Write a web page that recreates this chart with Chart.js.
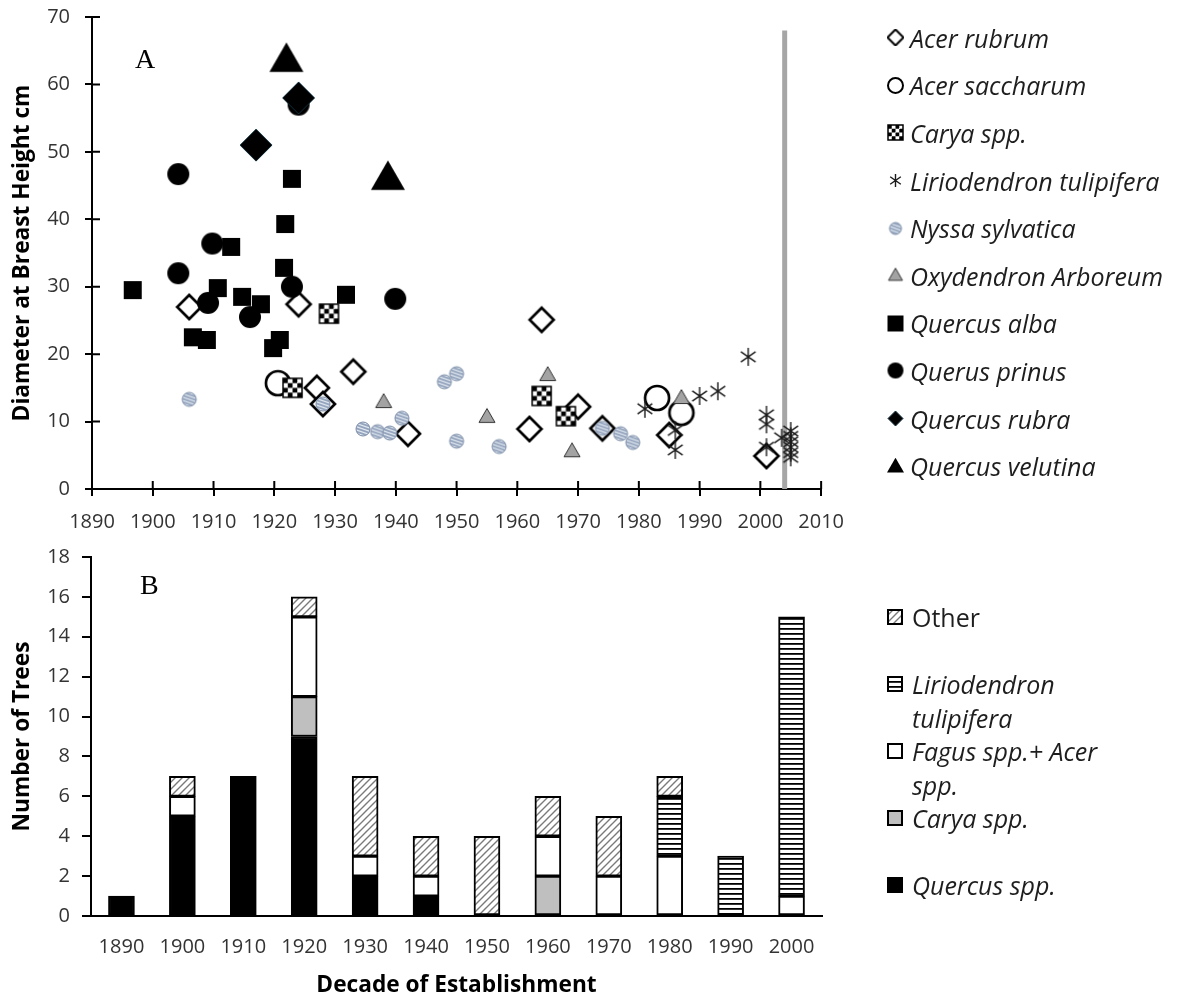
<!DOCTYPE html>
<html>
<head>
<meta charset="utf-8">
<script src="https://cdn.jsdelivr.net/npm/chart.js@4.4.1/dist/chart.umd.min.js"></script>
<style>
body{margin:0;background:#fff;}
#wrap{position:relative;width:1180px;height:1000px;overflow:hidden;font-family:'Open Sans',Lato,sans-serif;}
#wrap>canvas{position:absolute;left:0;}
#c1{top:-10px}
#c2{top:533px}
.panel{position:absolute;font:28px 'Liberation Serif','DejaVu Serif',serif;color:#000}
.lg{position:absolute;left:887px;color:#1e1e1e;font-size:25px;font-style:italic}
.lg .it{display:flex;align-items:center;height:47.6px;white-space:nowrap}
.lg canvas{margin-right:6px;flex:none}
.lg2{position:absolute;left:887px;top:600px;width:230px;color:#1e1e1e;font-size:25px;font-style:italic;line-height:34px}
.lg2 .it{display:flex;align-items:flex-start;height:67px}
.lg2 canvas{margin:9px 9px 0 0;flex:none}
.lg2 .plain{font-style:normal}
</style>
</head>
<body>
<div id="wrap">
  <canvas id="c1" width="858" height="540"></canvas>
  <canvas id="c2" width="850" height="467"></canvas>
  <div class="panel" style="left:135px;top:43px">A</div>
  <div class="panel" style="left:140px;top:569px">B</div>
  <div class="lg" id="lg1" style="top:14px"></div>
  <div class="lg2" id="lg2"></div>
</div>
<script>
// ── A: 樹種ごとの (定着年, DBH cm) ──────────────────────
const speciesNames=['Acer rubrum','Acer saccharum','Carya spp.','Liriodendron tulipifera','Nyssa sylvatica',
  'Oxydendron Arboreum','Quercus alba','Querus prinus','Quercus rubra','Quercus velutina'];
const acerRubrum=[[1906,27.0],[1924,27.4],[1927,15.0],[1928,12.6],[1933,17.4],[1942,8.2],[1962,8.9],
  [1964,25.1],[1970,12.2],[1974,9.0],[1985,8.0],[2001,4.9]];
const acerSaccharum=[[1920.6,15.7],[1983,13.5],[1987,11.3]];
const carya=[[1923,15.0],[1929,26.0],[1964,13.8],[1968,10.8]];
const liriodendron=[[1981,11.9],[1986,8.7],[1986,5.8],[1990,13.8],[1993,14.5],[1998,19.6],[2001,11.0],
  [2001,9.6],[2001,6.2],[2003.5,7.6],[2005,8.6],[2005,7.8],[2005,7.0],[2005,6.2],[2005,5.4],[2005,4.7]];
const nyssa=[[1906,13.3],[1928,12.6],[1934.6,8.9],[1937,8.5],[1939,8.3],[1941,10.5],[1948,15.9],[1950,17.1],
  [1950,7.1],[1957,6.3],[1974,9.0],[1977,8.2],[1979,6.9]];
const oxydendron=[[1938,12.9],[1955,10.7],[1965,16.9],[1969,5.6],[1987,13.5]];
const quercusAlba=[[1896.7,29.5],[1906.6,22.5],[1908.9,22.1],[1910.7,29.8],[1912.9,35.9],[1914.7,28.5],
  [1917.8,27.4],[1919.8,20.9],[1920.9,22.1],[1921.6,32.8],[1921.8,39.3],[1922.9,46.0],[1931.8,28.8]];
const querusPrinus=[[1904.2,46.7],[1904.2,32.0],[1909.1,27.6],[1909.8,36.4],[1916,25.5],[1922.9,30.0],
  [1924,57.0],[1939.9,28.2]];
const quercusRubra=[[1917,51.0],[1924,58.0]];
const quercusVelutina=[[1922,63.6],[1938.7,46.1]];
const cutoffLine=[[2004,0],[2004,68]];

// ── B: 年代別本数 ───────────────────────────────────────
const decades=['1890','1900','1910','1920','1930','1940','1950','1960','1970','1980','1990','2000'];
const stackNames=['Quercus spp.','Carya spp.','Fagus spp.+ Acer spp.','Liriodendron tulipifera','Other'];
const quercusSpp=[1,5,7,9,2,1,0,0,0,0,0,0];
const caryaSpp=  [0,0,0,2,0,0,0,2,0,0,0,0];
const fagusAcer= [0,1,0,4,1,1,0,2,2,3,0,1];
const lirioSpp=  [0,0,0,0,0,0,0,0,0,3,3,14];
const otherSpp=  [0,1,0,1,4,2,4,2,3,1,0,0];

const FONT='"Open Sans", Lato, sans-serif';
const tickCol='#333';

// ── マーカー描画 ────────────────────────────────────────
function marker(kind,s){
  const c=document.createElement('canvas');
  c.width=c.height=Math.ceil(s+6);
  const g=c.getContext('2d'),m=c.width/2,r=s/2;
  const diamond=()=>{g.beginPath();g.moveTo(m,m-r);g.lineTo(m+r,m);g.lineTo(m,m+r);g.lineTo(m-r,m);g.closePath();};
  const tri=()=>{const h=r*2*0.87;g.beginPath();g.moveTo(m,m-h*0.6);g.lineTo(m+r,m+h*0.4);g.lineTo(m-r,m+h*0.4);g.closePath();};
  const circ=()=>{g.beginPath();g.arc(m,m,r,0,Math.PI*2);};
  switch(kind){
    case 'diamondOpen':diamond();g.fillStyle='#fff';g.fill();g.lineWidth=Math.max(2,s/9);g.strokeStyle='#000';g.stroke();break;
    case 'circleOpen':circ();g.fillStyle='#fff';g.fill();g.lineWidth=Math.max(2,s/9);g.strokeStyle='#000';g.stroke();break;
    case 'checker':{
      const x0=m-r,n=4,cs=s/n;g.fillStyle='#fff';g.fillRect(x0,x0,s,s);g.fillStyle='#000';
      for(let i=0;i<n;i++)for(let j=0;j<n;j++)if((i+j)%2===0)g.fillRect(x0+i*cs,x0+j*cs,cs,cs);
      g.strokeStyle='#fff';g.lineWidth=1;g.setLineDash([2,2]);g.beginPath();g.moveTo(x0+2,x0+s-2);g.lineTo(x0+s-2,x0+2);g.stroke();
      g.setLineDash([]);g.strokeStyle='#000';g.lineWidth=1.5;g.strokeRect(x0,x0,s,s);break;}
    case 'asterisk':{
      g.strokeStyle='#1a1a1a';g.lineWidth=1.4;g.beginPath();
      [90,35,145].forEach(a=>{const t=a*Math.PI/180,dx=Math.cos(t)*r,dy=Math.sin(t)*r;g.moveTo(m-dx,m-dy);g.lineTo(m+dx,m+dy);});
      g.stroke();break;}
    case 'nyssa':{
      circ();g.fillStyle='#94a4bd';g.fill();g.save();g.clip();g.strokeStyle='rgba(232,238,246,.9)';g.lineWidth=1.2;g.beginPath();
      for(let k=-2;k<=2;k++){g.moveTo(m-r,m+k*3.2-r*0.35);g.lineTo(m+r,m+k*3.2+r*0.35);}g.stroke();g.restore();
      circ();g.strokeStyle='#7d8ea8';g.lineWidth=1;g.stroke();break;}
    case 'triGray':tri();g.fillStyle='#a3a3a3';g.fill();g.strokeStyle='#333';g.lineWidth=1;g.stroke();break;
    case 'square':g.fillStyle='#000';g.fillRect(m-r,m-r,s,s);break;
    case 'circle':circ();g.fillStyle='#000';g.fill();break;
    case 'diamond':diamond();g.fillStyle='#000';g.fill();g.strokeStyle='#10303c';g.lineWidth=1;g.stroke();break;
    case 'triangle':tri();g.fillStyle='#000';g.fill();break;
  }
  return c;
}

const seriesData=[acerRubrum,acerSaccharum,carya,liriodendron,nyssa,oxydendron,quercusAlba,querusPrinus,quercusRubra,quercusVelutina];
const kinds=['diamondOpen','circleOpen','checker','asterisk','nyssa','triGray','square','circle','diamond','triangle'];
const plotSizes=[24,24,19,18,14,16,18,22,32,34];
const legendSizes=[16,15,15,13,12,14,16,16,15,17];

const ds1=seriesData.map((arr,i)=>({
  label:speciesNames[i],data:arr.map(([x,y])=>({x,y})),pointStyle:marker(kinds[i],plotSizes[i]),
  pointRadius:plotSizes[i]/2,order:20-i
}));
ds1.push({type:'line',label:'cutoff',data:cutoffLine.map(([x,y])=>({x,y})),borderColor:'#a6a6a6',borderWidth:5,
  pointRadius:0,order:99});

// 目盛り線（軸の内側にも出す）
const crossTicks={id:'crossTicks',beforeDatasetsDraw(ch){
  const {ctx,chartArea:a,scales:{x,y}}=ch;ctx.save();ctx.strokeStyle='#000';ctx.lineWidth=2;ctx.beginPath();
  x.ticks.forEach(t=>{const p=x.getPixelForValue(t.value);ctx.moveTo(p,a.bottom);ctx.lineTo(p,a.bottom-8);});
  y.ticks.forEach(t=>{const p=y.getPixelForValue(t.value);ctx.moveTo(a.left,p);ctx.lineTo(a.left+8,p);});
  ctx.stroke();ctx.restore();}};

const axTick={color:tickCol,font:{family:FONT,size:20}};
const axTitle=t=>({display:true,text:t,color:'#000',font:{family:FONT,size:22.7,weight:'bold'},padding:{top:9,bottom:0}});
const grd=len=>({display:true,drawOnChartArea:false,drawTicks:true,tickLength:len,color:'#000',lineWidth:2});

new Chart(document.getElementById('c1'),{
  type:'scatter',data:{datasets:ds1},plugins:[crossTicks],
  options:{responsive:false,animation:false,devicePixelRatio:1,
    layout:{padding:0},
    plugins:{legend:{display:false},tooltip:{enabled:false}},
    scales:{
      x:{type:'linear',min:1890,max:2010,ticks:{...axTick,stepSize:10,padding:14,maxRotation:0,callback:v=>String(v)},
        grid:grd(7),border:{color:'#000',width:2},afterFit(s){s.height=41;}},
      y:{min:0,max:70,ticks:{...axTick,stepSize:10,padding:15},grid:grd(7),border:{color:'#000',width:2},
        title:axTitle('Diameter at Breast Height cm'),afterFit(s){s.width=92;}}
    }}
});

// ── B: 積み上げ棒 ───────────────────────────────────────
function pattern(kind){
  const c=document.createElement('canvas'),g=c.getContext('2d');
  if(kind==='hatch'){
    c.width=c.height=7;g.fillStyle='#fff';g.fillRect(0,0,7,7);g.strokeStyle='#7a7a7a';g.lineWidth=1.4;g.beginPath();
    g.moveTo(-1,8);g.lineTo(8,-1);g.moveTo(-1,1);g.lineTo(1,-1);g.moveTo(6,8);g.lineTo(8,6);g.stroke();
  }else{
    c.width=c.height=5;g.fillStyle='#fff';g.fillRect(0,0,5,5);g.fillStyle='#000';g.fillRect(0,0,5,1.8);
  }
  return g.createPattern(c,'repeat');
}
const ctx2=document.getElementById('c2').getContext('2d');
const stackFills=['#000','#bfbfbf','#fff',pattern('stripe'),pattern('hatch')];
const stackData=[quercusSpp,caryaSpp,fagusAcer,lirioSpp,otherSpp];
const ds2=stackData.map((arr,i)=>({label:stackNames[i],data:arr.map(v=>v||null),backgroundColor:stackFills[i],
  borderColor:'#000',borderWidth:2,borderSkipped:false,barThickness:26}));

new Chart(ctx2,{
  type:'bar',data:{labels:decades,datasets:ds2},
  options:{responsive:false,animation:false,devicePixelRatio:1,
    layout:{padding:{top:0,right:28,left:0,bottom:0}},
    plugins:{legend:{display:false},tooltip:{enabled:false}},
    scales:{
      x:{stacked:true,grid:{display:false},border:{color:'#000',width:2},ticks:{...axTick,padding:11},
        title:{...axTitle('Decade of Establishment'),padding:{top:0,bottom:1}},afterFit(s){s.height=84;}},
      y:{stacked:true,min:0,max:18,ticks:{...axTick,stepSize:2,padding:12},grid:grd(9),border:{color:'#000',width:2},
        title:axTitle('Number of Trees'),afterFit(s){s.width=91;}}
    }}
});

// ── 凡例 ───────────────────────────────────────────────
const lg1=document.getElementById('lg1');
speciesNames.forEach((n,i)=>{
  const it=document.createElement('div');it.className='it';
  const box=document.createElement('canvas');box.width=box.height=17;
  const mk=marker(kinds[i],legendSizes[i]);box.getContext('2d').drawImage(mk,(17-mk.width)/2,(17-mk.height)/2);
  it.appendChild(box);it.appendChild(document.createTextNode(n));lg1.appendChild(it);
});
const lg2=document.getElementById('lg2');
[4,3,2,1,0].forEach(i=>{
  const it=document.createElement('div');it.className='it';
  const box=document.createElement('canvas');box.width=box.height=16;const g=box.getContext('2d');
  g.fillStyle=stackFills[i];g.fillRect(0,0,16,16);g.strokeStyle='#000';g.lineWidth=2;g.strokeRect(1,1,14,14);
  const sp=document.createElement('span');sp.textContent=stackNames[i];if(i===4)sp.className='plain';
  it.appendChild(box);it.appendChild(sp);lg2.appendChild(it);
});
</script>
</body>
</html>
